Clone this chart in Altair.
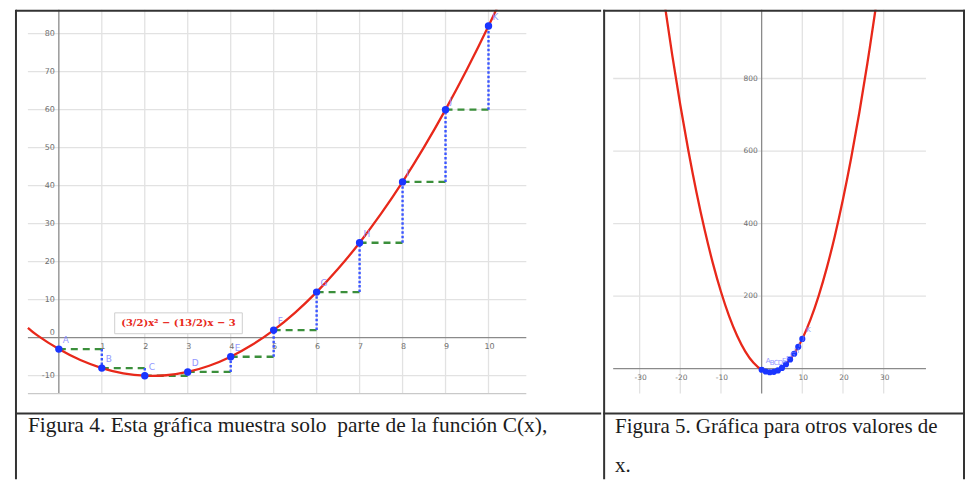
import altair as alt
import pandas as pd

# ---------------- data ----------------
point_x = [0, 1, 2, 3, 4, 5, 6, 7, 8, 9, 10]
point_y = [-3, -8, -10, -9, -5, 2, 12, 25, 41, 60, 82]
point_lab = ["A", "B", "C", "D", "E", "F", "G", "H", "I", "J", "K"]

curve1_x = [-0.72, -0.5, 0, 0.5, 1, 1.5, 2, 2.5, 3, 3.5, 4, 4.5, 5, 5.5,
            6, 6.5, 7, 7.5, 8, 8.5, 9, 9.5, 10, 10.5]
curve1_y = [2.6, 0.625, -3, -5.875, -8, -9.375, -10, -9.875, -9, -7.375, -5,
            -1.875, 2, 6.625, 12, 18.125, 25, 32.625, 41, 50.125, 60, 70.625,
            82, 94.125]

curve2_x = [-24, -22, -20, -18, -16, -14, -12, -10, -8, -6, -4, -2, 0, 2, 4,
            6, 8, 10, 12, 14, 16, 18, 20, 22, 24, 26, 28, 29]
curve2_y = [1017, 866, 727, 600, 485, 382, 291, 212, 145, 90, 47, 16, -3,
            -10, -5, 12, 41, 82, 135, 200, 277, 366, 467, 580, 705, 842, 991,
            1070]

left_xticks = [1, 2, 3, 4, 5, 6, 7, 8, 9, 10]
left_yticks = [-10, 10, 20, 30, 40, 50, 60, 70, 80]
right_xticks = [-30, -20, -10, 10, 20, 30]
right_yticks = [200, 400, 600, 800]

expr_text = "(3/2)x² − (13/2)x − 3"
cap4 = ["Figura 4. Esta gráfica muestra solo\u00a0 parte de la función C(x),"]
cap5 = ["Figura 5. Gráfica para otros valores de", "x."]

# ---------------- layout ----------------
W1, W2, H = 595, 363, 471
L_XDOM = [-51 / 43.1, (W1 - 51) / 43.1]
L_YDOM = [-(H - 329) / 3.8125, 329 / 3.8125]
L_GX = [-0.72, 10.88]
L_GY = [-14.69, L_YDOM[1]]

R_XDOM = [-159 / 4.08, (W2 - 159) / 4.08]
R_YDOM = [-(H - 360) / 0.36375, 360 / 0.36375]
R_GX = [-36.5, 40.4]
R_GY = [-68.7, R_YDOM[1]]

GRID = "#e2e2e2"
AXIS = "#8a8a8a"
TICK = "#6f6f6f"
RED = "#e8281a"
BLUE = "#1a35ff"
LBL = "#7f86ff"
BORDER = "#333333"

pts = pd.DataFrame({"x": point_x, "y": point_y, "lab": point_lab})
steps_h = pd.DataFrame({"x": point_x[:-1], "x2": point_x[1:], "y": point_y[:-1]})
steps_v = pd.DataFrame({"x": point_x[1:], "y": point_y[:-1], "y2": point_y[1:]})
one = alt.Data(values=[{}])


def panel(xdom, ydom, gx, gy, xticks, yticks, curve_x, curve_y, width,
          pt_size, lbl_size, tick_size, bottom_edge, extra):
    X = lambda f: alt.X(f, type="quantitative",
                        scale=alt.Scale(domain=xdom, nice=False, zero=False), axis=None)
    Y = lambda f: alt.Y(f, type="quantitative",
                        scale=alt.Scale(domain=ydom, nice=False, zero=False), axis=None)

    vgrid = pd.DataFrame({"x": xticks, "y": gy[0], "y2": gy[1]})
    hgrid = pd.DataFrame({"y": yticks, "x": gx[0], "x2": gx[1]})
    layers = [
        alt.Chart(vgrid).mark_rule(color=GRID, strokeWidth=1.3).encode(
            x=X("x"), y=Y("y"), y2="y2"),
        alt.Chart(hgrid).mark_rule(color=GRID, strokeWidth=1.3).encode(
            y=Y("y"), x=X("x"), x2="x2"),
        alt.Chart(pd.DataFrame({"x": [0], "y": [gy[0]], "y2": [gy[1]]})).mark_rule(
            color=AXIS, strokeWidth=1.3).encode(x=X("x"), y=Y("y"), y2="y2"),
        alt.Chart(pd.DataFrame({"y": [0], "x": [gx[0]], "x2": [gx[1]]})).mark_rule(
            color=AXIS, strokeWidth=1.3).encode(y=Y("y"), x=X("x"), x2="x2"),
    ]
    if bottom_edge:
        layers.append(
            alt.Chart(pd.DataFrame({"y": [gy[0]], "x": [gx[0]], "x2": [gx[1]]})).mark_rule(
                color="#c9c9c9", strokeWidth=1.3).encode(y=Y("y"), x=X("x"), x2="x2"))
    layers += [
        alt.Chart(pd.DataFrame({"x": xticks, "t": [str(v) for v in xticks]})).mark_text(
            fontSize=tick_size, color=TICK, font="DejaVu Sans", dy=9, dx=1).encode(
            x=X("x"), y=Y("y0"), text="t:N").transform_calculate(y0="0"),
        alt.Chart(pd.DataFrame({"y": yticks, "t": [str(v) for v in yticks]})).mark_text(
            fontSize=tick_size, color=TICK, font="DejaVu Sans", align="right", dx=-4).encode(
            y=Y("y"), x=X("x0"), text="t:N").transform_calculate(x0="0"),
    ]
    layers += extra(X, Y)
    layers += [
        alt.Chart(pd.DataFrame({"x": curve_x, "y": curve_y})).mark_line(
            color=RED, strokeWidth=2.3, interpolate="natural", clip=True).encode(
            x=X("x"), y=Y("y")),
        alt.Chart(pts).mark_circle(color=BLUE, opacity=1, size=pt_size).encode(
            x=X("x"), y=Y("y")),
        alt.Chart(pts).mark_text(color=LBL, fontSize=lbl_size, font="DejaVu Sans",
                                 align="left", dx=4, dy=-9, opacity=0.85).encode(
            x=X("x"), y=Y("y"), text="lab:N"),
    ]
    return alt.layer(*layers).properties(width=width, height=H)


def left_extra(X, Y):
    return [
        alt.Chart(steps_h).mark_rule(color="#3b8f3b", strokeWidth=2.4,
                                     strokeDash=[7, 5]).encode(
            x=X("x"), x2="x2", y=Y("y")),
        alt.Chart(steps_v).mark_rule(color="#3a55ff", strokeWidth=2.4,
                                     strokeDash=[2.5, 2]).encode(
            x=X("x"), y=Y("y"), y2="y2"),
        alt.Chart(pd.DataFrame({"x": [0], "y": [0], "t": ["0"]})).mark_text(
            fontSize=8, color=TICK, font="DejaVu Sans", align="right", dx=-4, dy=-5).encode(
            x=X("x"), y=Y("y"), text="t:N"),
        alt.Chart(pd.DataFrame({"x": [1.30], "x2": [4.27], "y": [1.05], "y2": [6.54]})).mark_rect(
            fill="white", stroke="#cfcfcf", strokeWidth=1).encode(
            x=X("x"), x2="x2", y=Y("y"), y2="y2"),
        alt.Chart(pd.DataFrame({"x": [2.784], "y": [3.8], "t": [expr_text]})).mark_text(
            color=RED, fontSize=10, font="DejaVu Serif", fontWeight="bold").encode(
            x=X("x"), y=Y("y"), text="t:N"),
    ]


def right_extra(X, Y):
    return []


def border_layers(rules):
    out = []
    for r in rules:
        out.append(alt.Chart(one).mark_rule(color=BORDER, strokeWidth=2).encode(**r))
    return out


left = panel(L_XDOM, L_YDOM, L_GX, L_GY, left_xticks, left_yticks,
             curve1_x, curve1_y, W1, 55, 9, 8, True, left_extra)
left_b = border_layers([
    dict(x=alt.value(8), y=alt.value(0), y2=alt.value(H)),
    dict(y=alt.value(1), x=alt.value(8), x2=alt.value(W1)),
    dict(y=alt.value(405), x=alt.value(8), x2=alt.value(W1)),
])
left_cap = alt.Chart(pd.DataFrame({"t": cap4})).mark_text(
    font="Liberation Serif", fontSize=21.5, color="#1c1c1c", align="left",
    baseline="alphabetic").encode(x=alt.value(20), y=alt.value(424), text="t:N")
left_full = alt.layer(left, *left_b, left_cap).properties(width=W1, height=H)

right = panel(R_XDOM, R_YDOM, R_GX, R_GY, right_xticks, right_yticks,
              curve2_x, curve2_y, W2, 38, 7, 7.5, False, right_extra)
right_b = border_layers([
    dict(x=alt.value(1), y=alt.value(0), y2=alt.value(H)),
    dict(x=alt.value(W2 - 1), y=alt.value(0), y2=alt.value(H)),
    dict(y=alt.value(1), x=alt.value(0), x2=alt.value(W2)),
    dict(y=alt.value(405), x=alt.value(0), x2=alt.value(W2)),
])
right_cap = [
    alt.Chart(pd.DataFrame({"t": [cap5[0]]})).mark_text(
        font="Liberation Serif", fontSize=21, color="#1c1c1c", align="left",
        baseline="alphabetic").encode(x=alt.value(12), y=alt.value(425), text="t:N"),
    alt.Chart(pd.DataFrame({"t": [cap5[1]]})).mark_text(
        font="Liberation Serif", fontSize=21, color="#1c1c1c", align="left",
        baseline="alphabetic").encode(x=alt.value(12), y=alt.value(464), text="t:N"),
]
right_full = alt.layer(right, *right_b, *right_cap).properties(width=W2, height=H)

chart = alt.hconcat(left_full, right_full, spacing=0).properties(
    padding=0, background="white").configure_view(strokeWidth=0)

chart.save("out.html", embed_options={"renderer": "svg", "actions": False})
